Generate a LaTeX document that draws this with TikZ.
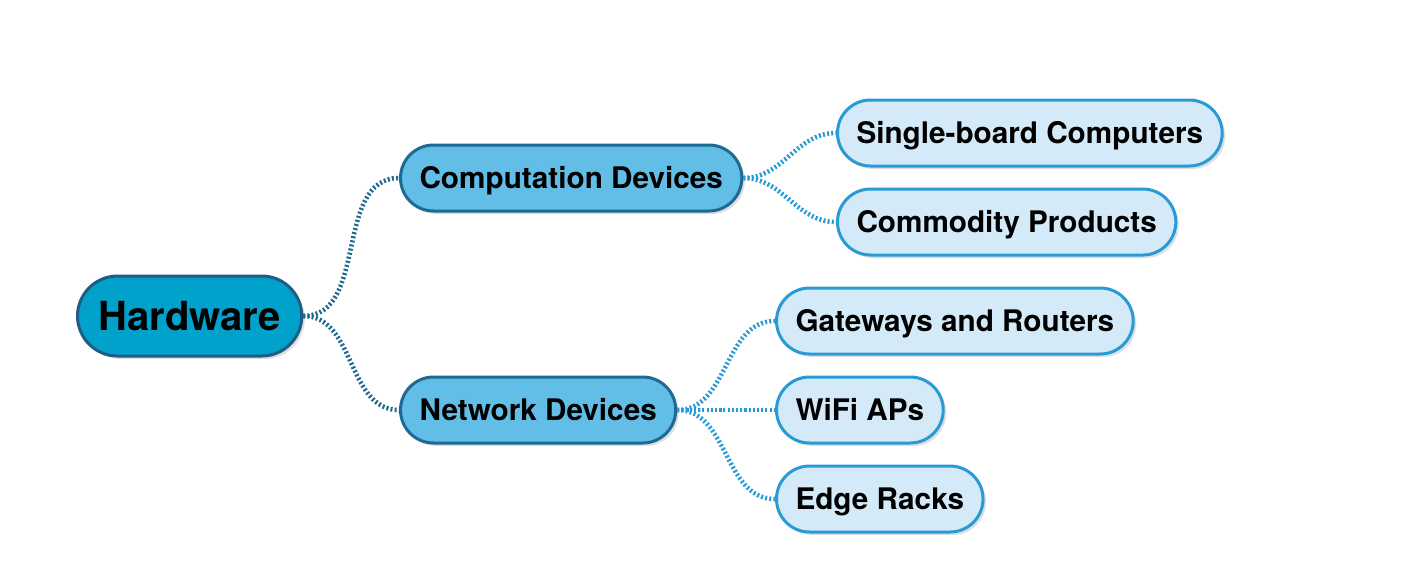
\documentclass[tikz,border=0pt]{standalone}
\usepackage{fontspec}
\setmainfont{TeX Gyre Heros}
\usetikzlibrary{shadows}

\definecolor{hwfill}{HTML}{00A2CB}
\definecolor{hwdraw}{HTML}{1E5E86}
\definecolor{grpfill}{HTML}{62BEE7}
\definecolor{grpdraw}{HTML}{1D6A93}
\definecolor{leaffill}{HTML}{D4EAF8}
\definecolor{leafdraw}{HTML}{2A9AD6}

\tikzset{
  hwnode/.style={draw=hwdraw,fill=hwfill,line width=1.5pt,rounded corners=20pt,
    minimum height=40pt,inner xsep=10.5pt,anchor=west,
    text height=14.4pt,text depth=0pt,
    font=\fontsize{20}{24}\selectfont\bfseries,
    drop shadow={shadow xshift=1.5pt,shadow yshift=-1.5pt,opacity=0.25}},
  grpnode/.style={draw=grpdraw,fill=grpfill,line width=1.5pt,rounded corners=16.5pt,
    minimum height=33pt,inner xsep=9.5pt,anchor=west,
    text height=10.7pt,text depth=0pt,
    font=\fontsize{14.85}{18}\selectfont\bfseries,
    drop shadow={shadow xshift=1.5pt,shadow yshift=-1.5pt,opacity=0.25}},
  leafnode/.style={grpnode,draw=leafdraw,fill=leaffill},
  hwlink/.style={draw=grpdraw,line width=2.3pt,dash pattern=on 1pt off 1.1pt},
  leaflink/.style={draw=leafdraw,line width=2.3pt,dash pattern=on 1pt off 1.1pt}
}

\begin{document}
\begin{tikzpicture}[x=0.5pt,y=-0.5pt]
  \useasboundingbox (0,0) rectangle (1411,575);

  % root
  \node[hwnode] (hw) at (76,316) {Hardware};

  % groups
  \node[grpnode] (comp) at (399,178) {Computation Devices};
  \node[grpnode] (net) at (399,410) {Network Devices};

  % leaves
  \node[leafnode] (sbc) at (836,133) {Single-board Computers};
  \node[leafnode] (cots) at (836,222) {Commodity Products};
  \node[leafnode] (gw) at (775,321) {Gateways and Routers};
  \node[leafnode] (wifi) at (775,410) {WiFi APs};
  \node[leafnode] (rack) at (775,499) {Edge Racks};

  \draw[hwlink] (hw.east) to[out=0,in=180] (comp.west);
  \draw[hwlink] (hw.east) to[out=0,in=180] (net.west);

  \foreach \c in {sbc,cots}
    \draw[leaflink] (comp.east) to[out=0,in=180] (\c.west);
  \foreach \c in {gw,wifi,rack}
    \draw[leaflink] (net.east) to[out=0,in=180] (\c.west);
\end{tikzpicture}
\end{document}
